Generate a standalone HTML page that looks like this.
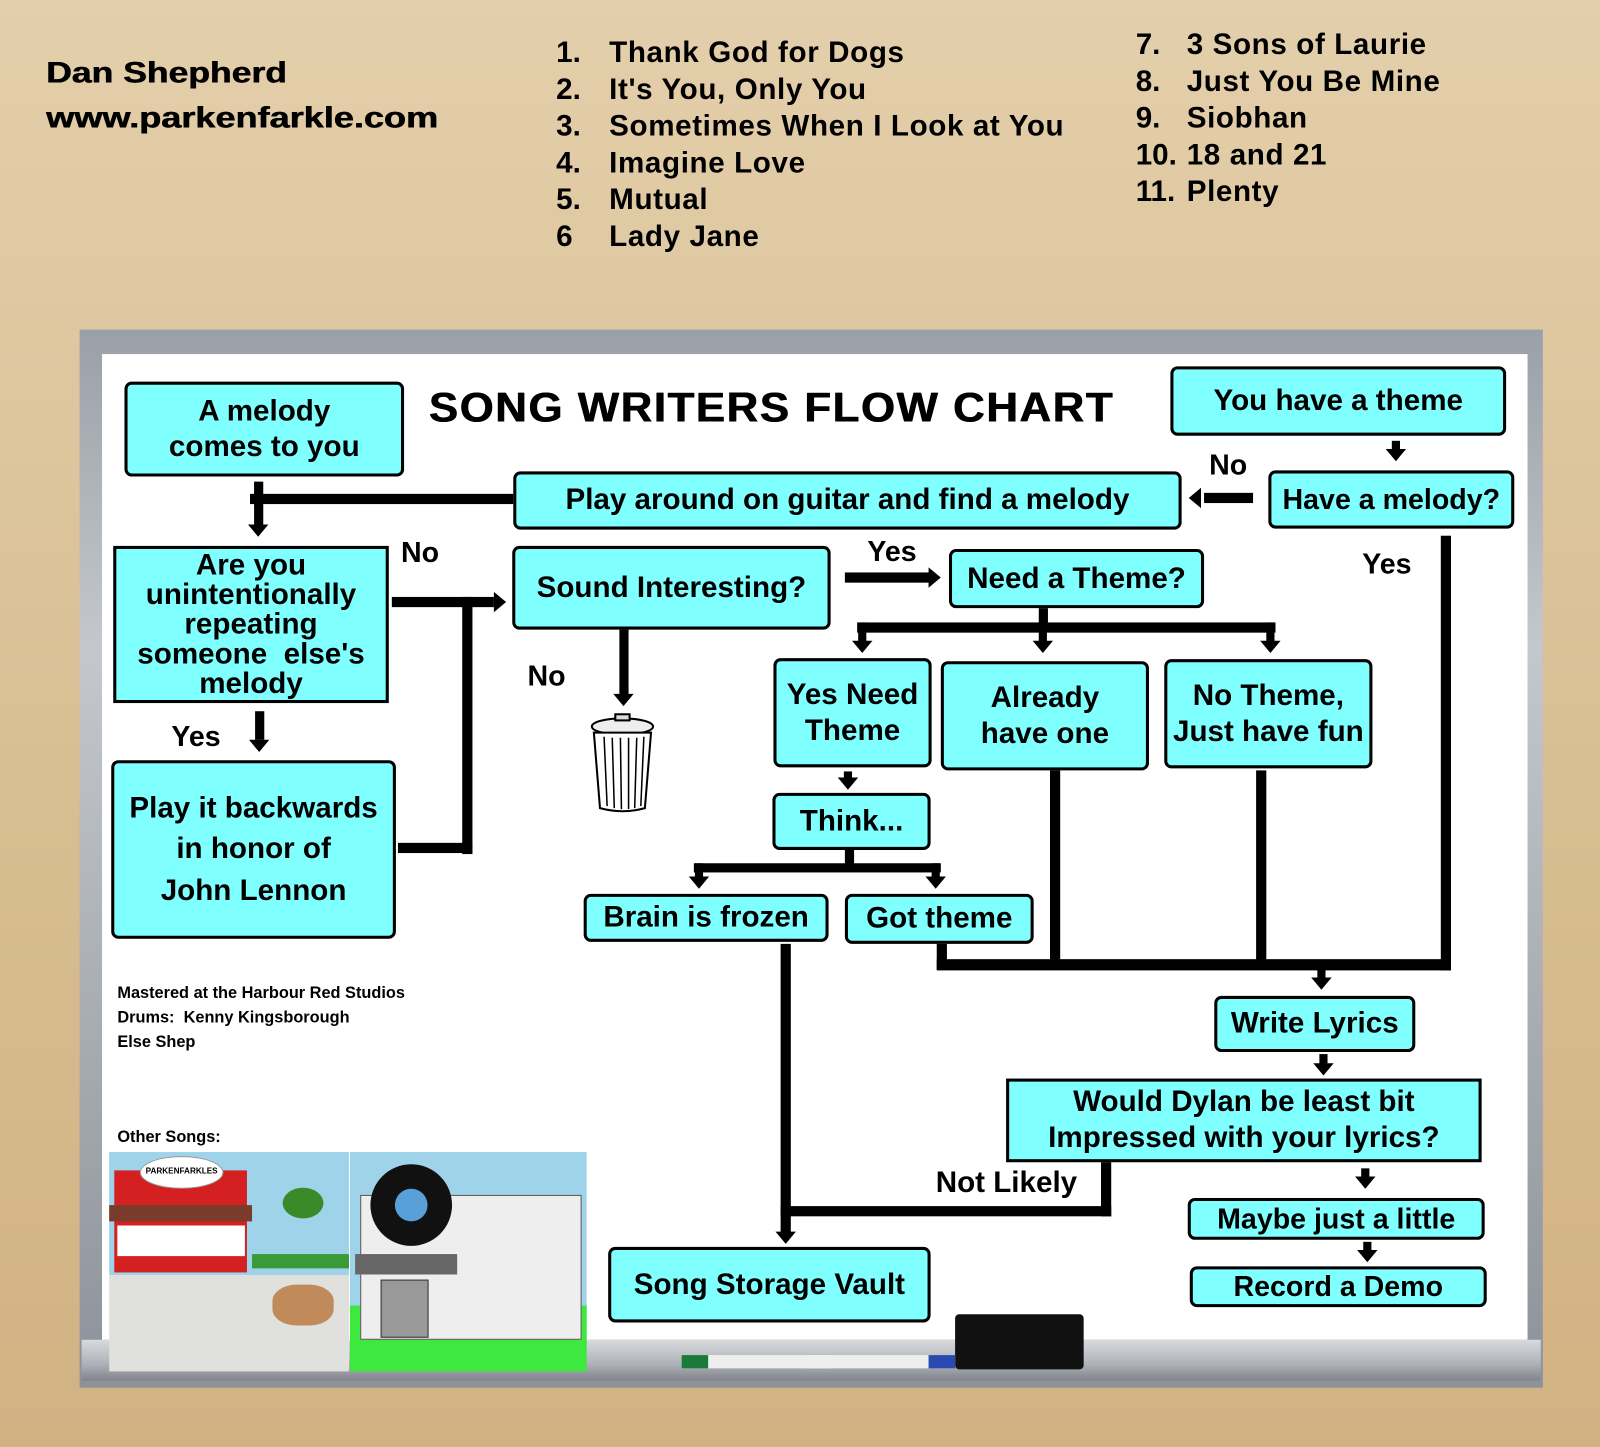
<!DOCTYPE html>
<html><head><meta charset="utf-8"><style>
html,body{margin:0;padding:0;width:1600px;height:1447px;overflow:hidden}
body{background:linear-gradient(#e3cfab,#d9bf94 50%,#d1b283);font-family:"Liberation Sans",Arial,sans-serif;font-weight:bold;color:#000}
#w{position:absolute;left:0;top:0;width:1568px;height:1418px;transform:scale(1.0204);transform-origin:0 0}
.a{position:absolute}
.b{position:absolute;background:#80ffff;border:3px solid #000;border-radius:7px;box-sizing:border-box;display:flex;align-items:center;justify-content:center;text-align:center;font-size:29px;line-height:1.2}
.l{position:absolute;background:#000}
.t{position:absolute;white-space:nowrap}
.ad{position:absolute;width:0;height:0;border-left:10px solid transparent;border-right:10px solid transparent;border-top:12px solid #000}
.ar{position:absolute;width:0;height:0;border-top:10px solid transparent;border-bottom:10px solid transparent;border-left:12px solid #000}
.al{position:absolute;width:0;height:0;border-top:10px solid transparent;border-bottom:10px solid transparent;border-right:12px solid #000}
</style></head><body><div id="w">
<div class="t" style="left:45px;top:56px;font-size:29px;transform:scaleX(1.2);transform-origin:0 0;text-shadow:0.6px 0 0 #000">Dan Shepherd</div>
<div class="t" style="left:45px;top:100px;font-size:29px;transform:scaleX(1.22);transform-origin:0 0;text-shadow:0.6px 0 0 #000">www.parkenfarkle.com</div>
<div class="t" style="left:545px;top:34px;font-size:29px;line-height:36px">1.<br>2.<br>3.<br>4.<br>5.<br>6</div>
<div class="t" style="left:597px;top:34px;font-size:29px;line-height:36px;letter-spacing:0.6px">Thank God for Dogs<br>It's You, Only You<br>Sometimes When I Look at You<br>Imagine Love<br>Mutual<br>Lady Jane</div>
<div class="t" style="left:1113px;top:26px;font-size:29px;line-height:36px">7.<br>8.<br>9.<br>10.<br>11.</div>
<div class="t" style="left:1163px;top:26px;font-size:29px;line-height:36px;letter-spacing:0.6px">3 Sons of Laurie<br>Just You Be Mine<br>Siobhan<br>18 and 21<br>Plenty</div>

<div class="a" style="left:78px;top:323px;width:1434px;height:1037px;background:linear-gradient(#9aa0a8,#c4c8cc 30%,#8d929a);"></div>
<div class="a" style="left:100px;top:347px;width:1397px;height:966px;background:#fff"></div>
<div class="a" style="left:80px;top:1313px;width:1430px;height:40px;background:linear-gradient(#d8dade,#aeb2b8 60%,#80848a)"></div>
<div class="a" style="left:936px;top:1288px;width:126px;height:54px;background:#111;border-radius:4px"></div>
<div class="a" style="left:668px;top:1328px;width:120px;height:13px;background:#eee;border-left:26px solid #1a7a3a"></div>
<div class="a" style="left:790px;top:1328px;width:120px;height:13px;background:#eee;border-right:26px solid #2a4ab0"></div>

<div class="t" style="left:420px;top:376px;font-size:41px;letter-spacing:1.5px;transform:scaleX(1.045);transform-origin:0 0;text-shadow:0.8px 0 0 #000">SONG WRITERS FLOW CHART</div>

<!-- lines -->
<div class="l" style="left:245px;top:484px;width:258px;height:10px"></div>
<div class="l" style="left:249px;top:472px;width:9px;height:45px"></div><div class="ad" style="left:243px;top:514px"></div>
<div class="l" style="left:1180px;top:483px;width:48px;height:10px"></div><div class="al" style="left:1165px;top:478px"></div>
<div class="l" style="left:1364px;top:432px;width:8px;height:10px"></div><div class="ad" style="left:1358px;top:440px"></div>
<div class="l" style="left:384px;top:585px;width:100px;height:10px"></div><div class="ar" style="left:484px;top:580px"></div>
<div class="l" style="left:453px;top:585px;width:10px;height:252px"></div>
<div class="l" style="left:390px;top:826px;width:73px;height:10px"></div>
<div class="l" style="left:828px;top:561px;width:84px;height:10px"></div><div class="ar" style="left:910px;top:556px"></div>
<div class="l" style="left:607px;top:617px;width:9px;height:66px"></div><div class="ad" style="left:601px;top:680px"></div>
<div class="l" style="left:1018px;top:596px;width:9px;height:20px"></div>
<div class="l" style="left:840px;top:610px;width:410px;height:10px"></div>
<div class="l" style="left:841px;top:610px;width:8px;height:20px"></div><div class="ad" style="left:835px;top:628px"></div>
<div class="l" style="left:1018px;top:610px;width:8px;height:20px"></div><div class="ad" style="left:1012px;top:628px"></div>
<div class="l" style="left:1241px;top:610px;width:8px;height:20px"></div><div class="ad" style="left:1235px;top:628px"></div>
<div class="l" style="left:1412px;top:525px;width:10px;height:426px"></div>
<div class="l" style="left:250px;top:697px;width:9px;height:28px"></div><div class="ad" style="left:244px;top:725px"></div>
<div class="l" style="left:827px;top:756px;width:8px;height:8px"></div><div class="ad" style="left:821px;top:762px"></div>
<div class="l" style="left:828px;top:833px;width:9px;height:16px"></div>
<div class="l" style="left:680px;top:846px;width:242px;height:9px"></div>
<div class="l" style="left:681px;top:846px;width:8px;height:14px"></div><div class="ad" style="left:675px;top:859px"></div>
<div class="l" style="left:913px;top:846px;width:8px;height:14px"></div><div class="ad" style="left:907px;top:859px"></div>
<div class="l" style="left:1029px;top:755px;width:10px;height:192px"></div>
<div class="l" style="left:1231px;top:755px;width:10px;height:192px"></div>
<div class="l" style="left:918px;top:925px;width:10px;height:25px"></div>
<div class="l" style="left:918px;top:940px;width:504px;height:11px"></div>
<div class="l" style="left:1291px;top:945px;width:8px;height:14px"></div><div class="ad" style="left:1285px;top:958px"></div>
<div class="l" style="left:1293px;top:1033px;width:8px;height:10px"></div><div class="ad" style="left:1287px;top:1042px"></div>
<div class="l" style="left:1334px;top:1145px;width:8px;height:9px"></div><div class="ad" style="left:1328px;top:1153px"></div>
<div class="l" style="left:1336px;top:1217px;width:8px;height:9px"></div><div class="ad" style="left:1330px;top:1225px"></div>
<div class="l" style="left:765px;top:925px;width:10px;height:283px"></div><div class="ad" style="left:760px;top:1207px"></div>
<div class="l" style="left:765px;top:1182px;width:324px;height:10px"></div>
<div class="l" style="left:1079px;top:1138px;width:10px;height:54px"></div>

<!-- boxes -->
<div class="b" style="left:122px;top:374px;width:274px;height:93px">A melody<br>comes to you</div>
<div class="b" style="left:1147px;top:359px;width:329px;height:68px">You have a theme</div>
<div class="b" style="left:1243px;top:461px;width:241px;height:57px;font-size:28px">Have a melody?</div>
<div class="b" style="left:503px;top:462px;width:655px;height:57px">Play around on guitar and find a melody</div>
<div class="b" style="left:111px;top:535px;width:270px;height:154px;border-radius:0;line-height:1.0">Are you<br>unintentionally<br>repeating<br>someone&nbsp; else's<br>melody</div>
<div class="b" style="left:502px;top:535px;width:312px;height:82px">Sound Interesting?</div>
<div class="b" style="left:930px;top:538px;width:250px;height:58px">Need a Theme?</div>
<div class="b" style="left:758px;top:645px;width:155px;height:107px">Yes Need<br>Theme</div>
<div class="b" style="left:922px;top:648px;width:204px;height:107px">Already<br>have one</div>
<div class="b" style="left:1141px;top:646px;width:204px;height:107px">No Theme,<br>Just have fun</div>
<div class="b" style="left:757px;top:777px;width:155px;height:56px">Think...</div>
<div class="b" style="left:109px;top:745px;width:279px;height:175px;line-height:1.38">Play it backwards<br>in honor of<br>John Lennon</div>
<div class="b" style="left:572px;top:876px;width:240px;height:47px">Brain is frozen</div>
<div class="b" style="left:828px;top:876px;width:185px;height:49px">Got theme</div>
<div class="b" style="left:1190px;top:976px;width:197px;height:55px">Write Lyrics</div>
<div class="b" style="left:986px;top:1057px;width:466px;height:82px;border-radius:0">Would Dylan be least bit<br>Impressed with your lyrics?</div>
<div class="b" style="left:1164px;top:1174px;width:291px;height:41px;font-size:28px">Maybe just a little</div>
<div class="b" style="left:1166px;top:1241px;width:291px;height:40px;font-size:28px">Record a Demo</div>
<div class="b" style="left:596px;top:1222px;width:316px;height:74px">Song Storage Vault</div>

<!-- labels -->
<div class="t" style="left:1185px;top:440px;font-size:28px">No</div>
<div class="t" style="left:393px;top:526px;font-size:28px">No</div>
<div class="t" style="left:850px;top:525px;font-size:28px">Yes</div>
<div class="t" style="left:1335px;top:537px;font-size:28px">Yes</div>
<div class="t" style="left:517px;top:647px;font-size:28px">No</div>
<div class="t" style="left:168px;top:706px;font-size:28px">Yes</div>
<div class="t" style="left:917px;top:1143px;font-size:29px">Not Likely</div>
<div class="t" style="left:115px;top:962px;font-size:16px;line-height:24px">Mastered at the Harbour Red Studios<br>Drums:&nbsp; Kenny Kingsborough<br>Else Shep</div>
<div class="t" style="left:115px;top:1106px;font-size:16px">Other Songs:</div>

<!-- trash can -->
<svg class="a" style="left:576px;top:698px" width="68" height="100" viewBox="0 0 68 100">
<ellipse cx="34" cy="14" rx="30" ry="8" fill="#eee" stroke="#000" stroke-width="2"/>
<rect x="27" y="2" width="14" height="6" fill="#ddd" stroke="#000" stroke-width="2"/>
<path d="M6 20 L12 94 Q34 100 56 94 L62 20 Z" fill="#fff" stroke="#000" stroke-width="2"/>
<g stroke="#000" stroke-width="1.5"><line x1="16" y1="24" x2="19" y2="92"/><line x1="24" y1="25" x2="26" y2="94"/><line x1="32" y1="25" x2="33" y2="95"/><line x1="40" y1="25" x2="40" y2="95"/><line x1="48" y1="25" x2="46" y2="94"/><line x1="55" y1="24" x2="52" y2="92"/></g>
</svg>

<!-- images -->
<div class="a" style="left:107px;top:1129px;width:235px;height:215px;background:linear-gradient(#9fd3ea 0,#9fd3ea 56%,#e0e0dc 56%)">
<div class="a" style="left:5px;top:18px;width:130px;height:100px;background:#d42020"></div>
<div class="a" style="left:0px;top:52px;width:140px;height:16px;background:#7a3c2a"></div>
<div class="a" style="left:8px;top:72px;width:125px;height:30px;background:#fff"></div>
<div class="a" style="left:30px;top:4px;width:80px;height:30px;background:#fff;border-radius:50%;border:1px solid #999;font-size:8px;text-align:center;line-height:28px">PARKENFARKLES</div>
<div class="a" style="left:140px;top:100px;width:95px;height:14px;background:#3a9a3a"></div>
<div class="a" style="left:170px;top:35px;width:40px;height:30px;background:#3a8a2a;border-radius:50%"></div>
<div class="a" style="left:160px;top:130px;width:60px;height:40px;background:#c08a5a;border-radius:40%"></div>
</div>
<div class="a" style="left:343px;top:1129px;width:232px;height:215px;background:linear-gradient(#9fd3ea 0,#9fd3ea 70%,#3ee83e 70%)">
<div class="a" style="left:10px;top:42px;width:215px;height:140px;background:#eee;border:1px solid #555"></div>
<div class="a" style="left:20px;top:12px;width:80px;height:80px;background:#111;border-radius:50%"></div>
<div class="a" style="left:44px;top:36px;width:32px;height:32px;background:#5aa0d8;border-radius:50%"></div>
<div class="a" style="left:5px;top:100px;width:100px;height:20px;background:#666"></div>
<div class="a" style="left:30px;top:125px;width:45px;height:55px;background:#999;border:1px solid #333"></div>
</div>
</div></body></html>
